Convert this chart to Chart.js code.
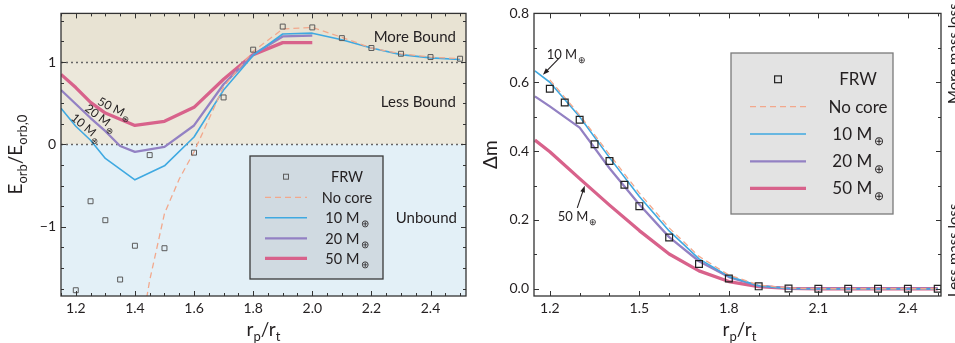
<!DOCTYPE html>
<html>
<head>
<meta charset="utf-8">
<script src="https://cdn.jsdelivr.net/npm/chart.js@4.4.1/dist/chart.umd.min.js"></script>
<style>
  html, body { margin: 0; padding: 0; background: #fff; }
  #wrap { position: relative; width: 955px; height: 343px; overflow: hidden; }
  canvas { position: absolute; top: 0; }
  #left { left: 0; }
  #right { left: 480px; }
</style>
</head>
<body>
<div id="wrap">
  <canvas id="left" width="480" height="343"></canvas>
  <canvas id="right" width="475" height="343"></canvas>
</div>
<script>
// ---- left panel: E_orb / E_orb,0 ----
const frwX = [1.2, 1.25, 1.3, 1.35, 1.4, 1.45, 1.5, 1.6, 1.7, 1.8, 1.9, 2.0, 2.1, 2.2, 2.3, 2.4, 2.5];
const frwE = [-1.77, -0.69, -0.92, -1.64, -1.23, -0.13, -1.26, -0.10, 0.57, 1.15, 1.43, 1.42, 1.29, 1.17, 1.10, 1.06, 1.04];
const noCoreEX = [1.4, 1.45, 1.5, 1.55, 1.6, 1.7, 1.8, 1.9, 2.0, 2.1, 2.2, 2.3, 2.4, 2.5];
const noCoreE = [-2.7, -1.65, -0.84, -0.42, -0.09, 0.70, 1.13, 1.40, 1.42, 1.30, 1.17, 1.10, 1.06, 1.04];
const m10EX = [1.15, 1.2, 1.25, 1.3, 1.4, 1.5, 1.6, 1.7, 1.8, 1.9, 2.0, 2.1, 2.2, 2.3, 2.4, 2.5];
const m10E = [0.44, 0.22, 0.05, -0.17, -0.43, -0.26, 0.09, 0.66, 1.08, 1.34, 1.35, 1.27, 1.17, 1.09, 1.05, 1.03];
const m20EX = [1.15, 1.2, 1.25, 1.3, 1.35, 1.4, 1.5, 1.6, 1.7, 1.8, 1.9, 2.0];
const m20E = [0.66, 0.49, 0.32, 0.16, -0.02, -0.09, -0.03, 0.23, 0.73, 1.09, 1.31, 1.32];
const m50EX = [1.15, 1.2, 1.25, 1.3, 1.4, 1.5, 1.6, 1.7, 1.8, 1.9, 2.0];
const m50E = [0.85, 0.69, 0.51, 0.38, 0.23, 0.28, 0.45, 0.79, 1.09, 1.235, 1.235];

// ---- right panel: mass loss ----
const frwDm = [0.581, 0.541, 0.491, 0.420, 0.371, 0.302, 0.240, 0.149, 0.072, 0.030, 0.007, 0.001, 0, 0, 0, 0, 0];
const noCoreDmX = [1.2, 1.3, 1.4, 1.5, 1.6, 1.7, 1.8, 1.9, 2.0, 2.1, 2.2, 2.3, 2.4, 2.5];
const noCoreDm = [0.607, 0.505, 0.39, 0.278, 0.177, 0.094, 0.04, 0.011, 0.002, 0, 0, 0, 0, 0];
const dmX = [1.15, 1.2, 1.3, 1.4, 1.5, 1.6, 1.7, 1.8, 1.9, 2.0, 2.1, 2.2, 2.3, 2.4, 2.5];
const dm10 = [0.633, 0.60, 0.50, 0.381, 0.268, 0.168, 0.087, 0.036, 0.009, 0.001, 0, 0, 0, 0, 0];
const dm20 = [0.559, 0.530, 0.468, 0.35, 0.245, 0.15, 0.08, 0.034, 0.008, 0.001, 0, 0, 0, 0, 0];
const dm50 = [0.432, 0.398, 0.32, 0.243, 0.169, 0.101, 0.052, 0.021, 0.006, 0.001, 0, 0, 0, 0, 0];

// ticks and labels
const leftXTicks = [1.2, 1.4, 1.6, 1.8, 2.0, 2.2, 2.4];
const leftYTicks = [-1, 0, 1];
const boundLines = [0, 1];
const rightXTicks = [1.2, 1.5, 1.8, 2.1, 2.4];
const rightYTicks = [0, 0.2, 0.4, 0.6, 0.8];
const legendLabels = ['FRW', 'No core', '10', '20', '50'];
const regionLabels = ['More Bound', 'Less Bound', 'Unbound'];

const FONT = 'Lato, "Open Sans", sans-serif';
const INK = '#231f20';
const BLUE = '#3fa9e1', PURPLE = '#9381c3', PINK = '#d8628b', ORANGE = '#f2a88c';

function pts(xs, ys) {
  return xs.map((x, i) => ({ x: x, y: ys[i] }));
}

// draw text made of pieces: [text, size, dy]
function richText(ctx, parts, x, y, align) {
  let w = 0;
  parts.forEach(p => { ctx.font = p[1] + 'px ' + FONT; w += ctx.measureText(p[0]).width; });
  let cx = align === 'center' ? x - w / 2 : (align === 'right' ? x - w : x);
  ctx.textAlign = 'left';
  ctx.textBaseline = 'alphabetic';
  parts.forEach(p => {
    ctx.font = p[1] + 'px ' + FONT;
    ctx.fillText(p[0], cx, y + (p[2] || 0));
    cx += ctx.measureText(p[0]).width;
  });
}

function massParts(n, size) {
  return [[n + ' M', size], ['\u2009\u2295', size * 0.72, size * 0.3]];
}

function tickMarks(ctx, chart, xMajor, yMajor, xStep, yStep) {
  const a = chart.chartArea, xs = chart.scales.x, ys = chart.scales.y;
  const isMajor = (list, v) => list.some(m => Math.abs(m - v) < 1e-6);
  ctx.save();
  ctx.strokeStyle = '#333';
  ctx.lineWidth = 1;
  ctx.beginPath();
  for (let k = Math.ceil(xs.min / xStep - 1e-6); k * xStep <= xs.max + 1e-9; k++) {
    const v = k * xStep, len = isMajor(xMajor, v) ? 5 : 3;
    const px = Math.round(xs.getPixelForValue(v)) + 0.5;
    ctx.moveTo(px, a.bottom); ctx.lineTo(px, a.bottom - len);
    ctx.moveTo(px, a.top); ctx.lineTo(px, a.top + len);
  }
  for (let k = Math.ceil(ys.min / yStep - 1e-6); k * yStep <= ys.max + 1e-9; k++) {
    const v = k * yStep, len = isMajor(yMajor, v) ? 5 : 3;
    const py = Math.round(ys.getPixelForValue(v)) + 0.5;
    ctx.moveTo(a.left, py); ctx.lineTo(a.left + len, py);
    ctx.moveTo(a.right, py); ctx.lineTo(a.right - len, py);
  }
  ctx.stroke();
  ctx.lineWidth = 1.3;
  ctx.strokeRect(a.left, a.top, a.right - a.left, a.bottom - a.top);
  ctx.restore();
}

function drawLegend(ctx, chart, box, rowsY, x1, x2, textX, size) {
  ctx.save();
  ctx.fillStyle = box.fill;
  ctx.fillRect(box.x, box.y, box.w, box.h);
  ctx.strokeStyle = box.stroke;
  ctx.lineWidth = 1.3;
  ctx.strokeRect(box.x, box.y, box.w, box.h);
  chart.data.datasets.forEach((ds, i) => {
    const y = rowsY[i];
    if (!ds.showLine) {
      const s = ds.pointRadius * Math.SQRT1_2;
      ctx.strokeStyle = ds.pointBorderColor;
      ctx.lineWidth = ds.pointBorderWidth;
      ctx.setLineDash([]);
      ctx.strokeRect((x1 + x2) / 2 - s, y - s, 2 * s, 2 * s);
    } else {
      ctx.strokeStyle = ds.borderColor;
      ctx.lineWidth = ds.borderWidth;
      ctx.setLineDash(ds.borderDash || []);
      ctx.beginPath(); ctx.moveTo(x1, y); ctx.lineTo(x2, y); ctx.stroke();
    }
    ctx.setLineDash([]);
    ctx.fillStyle = INK;
    const lbl = legendLabels[i];
    const parts = i >= 2 ? massParts(lbl, size) : [[lbl, size]];
    richText(ctx, parts, textX, y + size * 0.36, 'center');
  });
  ctx.restore();
}

function arrow(ctx, x0, y0, x1, y1) {
  const ang = Math.atan2(y1 - y0, x1 - x0);
  ctx.beginPath(); ctx.moveTo(x0, y0); ctx.lineTo(x1 - 4 * Math.cos(ang), y1 - 4 * Math.sin(ang)); ctx.stroke();
  ctx.beginPath();
  ctx.moveTo(x1, y1);
  ctx.lineTo(x1 - 7 * Math.cos(ang - 0.35), y1 - 7 * Math.sin(ang - 0.35));
  ctx.lineTo(x1 - 7 * Math.cos(ang + 0.35), y1 - 7 * Math.sin(ang + 0.35));
  ctx.closePath(); ctx.fill();
}

const leftDecor = {
  id: 'leftDecor',
  beforeDatasetsDraw(chart) {
    const ctx = chart.ctx, a = chart.chartArea, ys = chart.scales.y;
    const y0 = ys.getPixelForValue(boundLines[0]), y1 = ys.getPixelForValue(boundLines[1]);
    ctx.save();
    ctx.fillStyle = '#e8e3d3';
    ctx.fillRect(a.left, a.top, a.right - a.left, y1 - a.top);
    ctx.fillStyle = '#ece8db';
    ctx.fillRect(a.left, y1, a.right - a.left, y0 - y1);
    ctx.fillStyle = '#e3f0f7';
    ctx.fillRect(a.left, y0, a.right - a.left, a.bottom - y0);
    ctx.strokeStyle = '#666';
    ctx.lineWidth = 1.3;
    ctx.setLineDash([2, 3]);
    boundLines.forEach(v => {
      const py = Math.round(ys.getPixelForValue(v)) + 0.5;
      ctx.beginPath(); ctx.moveTo(a.left, py); ctx.lineTo(a.right, py); ctx.stroke();
    });
    ctx.restore();
  },
  afterDraw(chart) {
    const ctx = chart.ctx, a = chart.chartArea, xs = chart.scales.x, ys = chart.scales.y;
    tickMarks(ctx, chart, leftXTicks, leftYTicks, 0.05, 0.25);
    ctx.save();
    ctx.fillStyle = INK;
    // region labels
    ctx.font = '15px ' + FONT;
    ctx.textAlign = 'right';
    ctx.textBaseline = 'alphabetic';
    ctx.fillText(regionLabels[0], 456, 41.5);
    ctx.fillText(regionLabels[1], 456, 107);
    ctx.fillText(regionLabels[2], 457, 222.5);
    // labels along the curves, sitting just above each line
    [['50', 1.332, 0.42, 27], ['20', 1.284, 0.31, 37], ['10', 1.236, 0.19, 40]].forEach(l => {
      ctx.save();
      ctx.translate(xs.getPixelForValue(l[1]), ys.getPixelForValue(l[2]));
      ctx.rotate(l[3] * Math.PI / 180);
      richText(ctx, massParts(l[0], 12), 0, 3, 'center');
      ctx.restore();
    });
    drawLegend(ctx, chart, { x: 250, y: 156, w: 133, h: 123, fill: '#d0dae1', stroke: '#3a3a3a' },
      [176.7, 197.3, 217.7, 238.3, 258.3], 265, 307, 347, 14.5);
    // axis titles
    ctx.fillStyle = INK;
    richText(ctx, [['r', 19], ['p', 13, 5], ['/r', 19], ['t', 13, 5]], (a.left + a.right) / 2, 336, 'center');
    ctx.save();
    ctx.translate(22, (a.top + a.bottom) / 2);
    ctx.rotate(-Math.PI / 2);
    richText(ctx, [['E', 19], ['orb', 13, 5], ['/E', 19], ['orb,0', 13, 5]], 0, 0, 'center');
    ctx.restore();
    ctx.restore();
  }
};

const rightDecor = {
  id: 'rightDecor',
  afterDraw(chart) {
    const ctx = chart.ctx, a = chart.chartArea, xs = chart.scales.x, ys = chart.scales.y;
    tickMarks(ctx, chart, rightXTicks, rightYTicks, 0.1, 0.1);
    ctx.save();
    drawLegend(ctx, chart, { x: 251, y: 53, w: 162, h: 161, fill: '#e3e3e3', stroke: '#7a7a7a' },
      [79.3, 106.7, 134, 161.3, 188.3], 270, 326, 378, 17);
    // arrow annotations
    ctx.fillStyle = INK;
    ctx.strokeStyle = INK;
    ctx.lineWidth = 1.1;
    richText(ctx, massParts('10', 13), xs.getPixelForValue(1.256), ys.getPixelForValue(0.683) + 5, 'center');
    arrow(ctx, xs.getPixelForValue(1.229), ys.getPixelForValue(0.668), xs.getPixelForValue(1.177), ys.getPixelForValue(0.622));
    richText(ctx, massParts('50', 13), xs.getPixelForValue(1.293), ys.getPixelForValue(0.212) + 5, 'center');
    arrow(ctx, xs.getPixelForValue(1.292), ys.getPixelForValue(0.235), xs.getPixelForValue(1.317), ys.getPixelForValue(0.299));
    // side labels, partly cut by the edge
    ctx.font = '15px ' + FONT;
    ctx.textBaseline = 'alphabetic';
    ctx.textAlign = 'left';
    ctx.save(); ctx.translate(479, 104); ctx.rotate(-Math.PI / 2); ctx.fillText('More mass loss', 0, 0); ctx.restore();
    ctx.save(); ctx.translate(479, 297); ctx.rotate(-Math.PI / 2); ctx.fillText('Less mass loss', 0, 0); ctx.restore();
    // axis titles
    richText(ctx, [['r', 19], ['p', 13, 5], ['/r', 19], ['t', 13, 5]], (a.left + a.right) / 2 + 2, 336, 'center');
    ctx.save();
    ctx.translate(17, (a.top + a.bottom) / 2);
    ctx.rotate(-Math.PI / 2);
    richText(ctx, [['\u0394m', 19]], 0, 0, 'center');
    ctx.restore();
    ctx.restore();
  }
};

function lineSet(label, data, color, width, dash) {
  return {
    label: label, data: data, showLine: true, borderColor: color, borderWidth: width,
    borderDash: dash || [], pointRadius: 0, pointHoverRadius: 0, tension: 0,
    borderJoinStyle: 'round', borderCapStyle: 'butt'
  };
}

function squareSet(data, color, radius, width) {
  return {
    label: 'FRW', data: data, showLine: false, pointStyle: 'rect', pointRadius: radius,
    pointBorderColor: color, pointBackgroundColor: 'rgba(0,0,0,0)', pointBorderWidth: width
  };
}

function axes(xMin, xMax, yMin, yMax, xTicks, yTicks, yWidth, yLabel) {
  const tickFont = { family: FONT, size: 14 };
  return {
    x: {
      type: 'linear', min: xMin, max: xMax,
      grid: { display: false, drawTicks: false }, border: { display: false },
      afterBuildTicks: s => { s.ticks = xTicks.map(v => ({ value: v })); },
      afterFit: s => { s.height = 47; },
      ticks: { font: tickFont, color: INK, padding: 4, maxRotation: 0, autoSkip: false, callback: v => v.toFixed(1) }
    },
    y: {
      type: 'linear', min: yMin, max: yMax,
      grid: { display: false, drawTicks: false }, border: { display: false },
      afterBuildTicks: s => { s.ticks = yTicks.map(v => ({ value: v })); },
      afterFit: s => { s.width = yWidth; },
      ticks: { font: tickFont, color: INK, padding: 5, autoSkip: false, callback: yLabel }
    }
  };
}

new Chart(document.getElementById('left'), {
  type: 'scatter',
  data: {
    datasets: [
      squareSet(pts(frwX, frwE), '#5a5a5a', 3.5, 1),
      lineSet('No core', pts(noCoreEX, noCoreE), ORANGE, 1.3, [6, 4]),
      lineSet('10', pts(m10EX, m10E), BLUE, 1.6),
      lineSet('20', pts(m20EX, m20E), PURPLE, 2.3),
      lineSet('50', pts(m50EX, m50E), PINK, 3.3)
    ]
  },
  options: {
    responsive: false, animation: false, devicePixelRatio: 1,
    layout: { padding: { left: 1, right: 14, top: 13, bottom: 0 } },
    plugins: { legend: { display: false }, tooltip: { enabled: false } },
    scales: axes(1.15, 2.52, -1.84, 1.59, leftXTicks, leftYTicks, 60,
      v => v < 0 ? '\u2212' + Math.abs(v) : String(v))
  },
  plugins: [leftDecor]
});

new Chart(document.getElementById('right'), {
  type: 'scatter',
  data: {
    datasets: [
      squareSet(pts(frwX, frwDm), '#222', 4.8, 1.2),
      lineSet('No core', pts(noCoreDmX, noCoreDm), ORANGE, 1.3, [6, 4]),
      lineSet('10', pts(dmX, dm10), BLUE, 1.6),
      lineSet('20', pts(dmX, dm20), PURPLE, 2.3),
      lineSet('50', pts(dmX, dm50), PINK, 3.3)
    ]
  },
  options: {
    responsive: false, animation: false, devicePixelRatio: 1,
    layout: { padding: { left: 0, right: 14, top: 12, bottom: 0 } },
    plugins: { legend: { display: false }, tooltip: { enabled: false } },
    scales: axes(1.147, 2.511, -0.021, 0.8, rightXTicks, rightYTicks, 54, v => v.toFixed(1))
  },
  plugins: [rightDecor]
});
</script>
</body>
</html>
